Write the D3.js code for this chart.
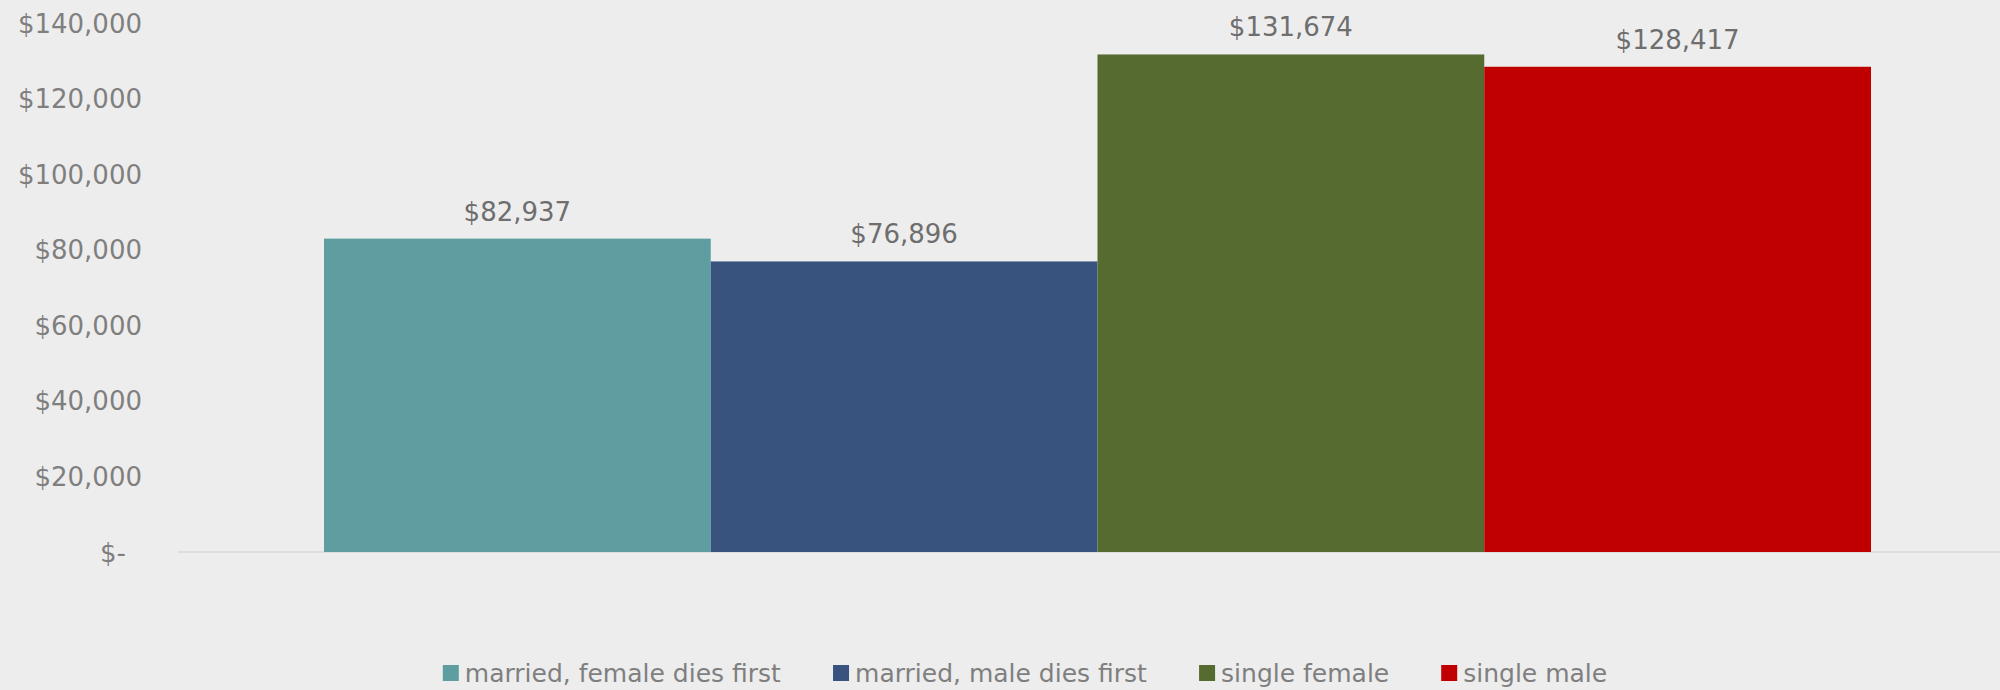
<!DOCTYPE html>
<html><head><meta charset="utf-8">
<script src="https://cdn.jsdelivr.net/npm/d3@7"></script>
<style>
html,body{margin:0;padding:0;background:#EDEDED;}
svg{display:block;}
text{font-family:"DejaVu Sans",sans-serif;}
</style></head><body>
<svg id="chart" width="2000" height="690"></svg>
<script>
const seriesNames = ["married, female dies first","married, male dies first","single female","single male"];
const seriesValues = [82937, 76896, 131674, 128417];
const seriesColors = ["#5F9EA0","#38547E","#556B2F","#C00000"];
const yTicks = [0,20000,40000,60000,80000,100000,120000,140000];

const svg = d3.select("#chart");
const W = 2000, H = 690;
svg.append("rect").attr("width",W).attr("height",H).attr("fill","#EDEDED");

const y = d3.scaleLinear().domain([0,140000]).range([552,23]);
const x = d3.scaleBand().domain(seriesNames).range([324,1871]).paddingInner(0).paddingOuter(0);

const money = v => v===0 ? "$-" : "$" + d3.format(",")(v);

// baseline
svg.append("line").attr("x1",178).attr("x2",2000).attr("y1",y(0)).attr("y2",y(0))
  .attr("stroke","#D9D9D9").attr("stroke-width",1.5);

// y axis
const yAxis = d3.axisLeft(y).tickValues(yTicks).tickSize(0).tickPadding(0).tickFormat(money);
const ga = svg.append("g").attr("transform","translate(142,0)").call(yAxis);
ga.select(".domain").remove();
ga.selectAll("text").attr("fill","#7F7F7F").style("font-size","26px")
  .style("font-family","'DejaVu Sans',sans-serif").attr("dy","0.35em");
ga.selectAll(".tick").filter(d=>d===0).select("text").attr("dx",-16);

// bars
svg.append("g").selectAll("rect").data(seriesNames).join("rect")
  .attr("x",d=>x(d)).attr("width",x.bandwidth())
  .attr("y",(d,i)=>y(seriesValues[i])).attr("height",(d,i)=>y(0)-y(seriesValues[i]))
  .attr("fill",(d,i)=>seriesColors[i]);

// data labels
svg.append("g").selectAll("text").data(seriesNames).join("text")
  .attr("x",d=>x(d)+x.bandwidth()/2).attr("y",(d,i)=>y(seriesValues[i])-18)
  .attr("text-anchor","middle").attr("fill","#6E6E6E").style("font-size","26px")
  .text((d,i)=>money(seriesValues[i]));

// legend
const lg = svg.append("g");
const items = lg.selectAll("g").data(seriesNames).join("g");
items.append("rect").attr("width",16).attr("height",16).attr("y",-8).attr("fill",(d,i)=>seriesColors[i]);
items.append("text").attr("x",22).attr("dy","0.35em").attr("fill","#7F7F7F").style("font-size","25px").text(d=>d);
let widths = [];
items.each(function(){ widths.push(this.getBBox().width); });
const gap = 52;
const total = d3.sum(widths) + gap*(widths.length-1);
let cx = 1025 - total/2;
items.attr("transform",(d,i)=>{ const t=`translate(${cx},673)`; cx += widths[i]+gap; return t; });
</script>
</body></html>
